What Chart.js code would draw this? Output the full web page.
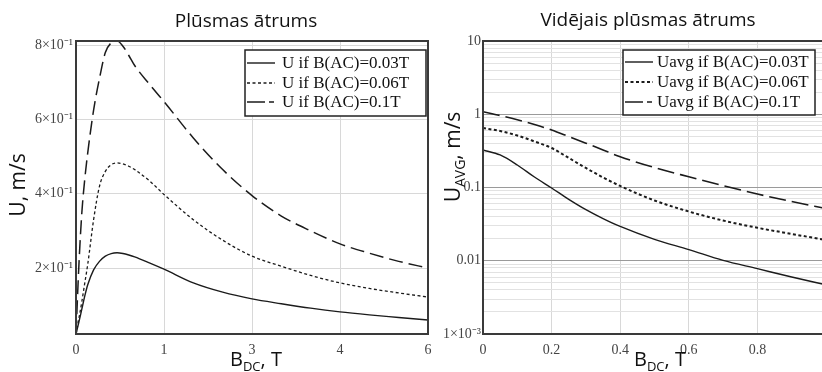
<!DOCTYPE html>
<html>
<head>
<meta charset="utf-8">
<script src="https://cdn.jsdelivr.net/npm/chart.js@4"></script>
<style>
html, body { margin: 0; padding: 0; background: #fff; overflow: hidden; width: 822px; height: 372px; }
#left { position: absolute; left: 0; top: 0; }
#right { position: absolute; left: 440px; top: 0; }
</style>
</head>
<body>
<canvas id="left" width="440" height="372"></canvas>
<canvas id="right" width="400" height="372"></canvas>
<script>
// Plūsmas ātrums: U vs B_DC
var bdc = [0, 0.05, 0.1, 0.15, 0.2, 0.3, 0.4, 0.5, 0.6, 0.7, 0.8, 0.9, 1.0, 1.25, 1.5, 2, 2.5, 3, 3.5, 4, 4.5, 5, 5.5, 6];
var u003 = [0.022, 0.055, 0.09, 0.125, 0.155, 0.195, 0.218, 0.232, 0.239, 0.241, 0.239, 0.235, 0.23, 0.214, 0.197, 0.16, 0.135, 0.117, 0.104, 0.092, 0.082, 0.074, 0.067, 0.06];
var u006 = [0.022, 0.065, 0.11, 0.16, 0.21, 0.33, 0.42, 0.46, 0.478, 0.483, 0.48, 0.474, 0.465, 0.435, 0.398, 0.33, 0.275, 0.232, 0.205, 0.18, 0.16, 0.145, 0.133, 0.122];
var u010 = [0.022, 0.21, 0.35, 0.44, 0.51, 0.625, 0.71, 0.78, 0.806, 0.812, 0.797, 0.772, 0.745, 0.695, 0.648, 0.55, 0.465, 0.395, 0.34, 0.3, 0.265, 0.24, 0.218, 0.2];
var uLabels = ['U if B(AC)=0.03T', 'U if B(AC)=0.06T', 'U if B(AC)=0.1T'];
var uTicksX = [0, 1.5, 3, 4.5, 6];
var uTickTextX = ['0', '1', '3', '4', '6'];
var uTicksY = [0.2, 0.4, 0.6, 0.8];
var uTickTextY = ['2×10⁻¹', '4×10⁻¹', '6×10⁻¹', '8×10⁻¹'];

// Vidējais plūsmas ātrums: Uavg vs B_DC (log)
var bdcAvg = [0, 0.05, 0.1, 0.15, 0.2, 0.25, 0.3, 0.35, 0.4, 0.5, 0.6, 0.7, 0.8, 0.9, 1.0];
var uavg003 = [0.325, 0.278, 0.203, 0.139, 0.0984, 0.069, 0.0499, 0.0377, 0.0294, 0.0196, 0.0142, 0.0101, 0.0078, 0.006, 0.0047];
var uavg006 = [0.649, 0.59, 0.513, 0.425, 0.346, 0.253, 0.185, 0.137, 0.105, 0.0665, 0.047, 0.0354, 0.0282, 0.0232, 0.0192];
var uavg010 = [1.084, 0.962, 0.843, 0.725, 0.61, 0.497, 0.403, 0.325, 0.263, 0.187, 0.14, 0.106, 0.0815, 0.0644, 0.0517];
var avgLabels = ['Uavg if B(AC)=0.03T', 'Uavg if B(AC)=0.06T', 'Uavg if B(AC)=0.1T'];
var avgTicksX = [0, 0.2, 0.4, 0.6, 0.8, 1];
var avgTickTextX = ['0', '0.2', '0.4', '0.6', '0.8', ''];
var avgDecades = [0.001, 0.01, 0.1, 1, 10];
var avgTickTextY = ['1×10⁻³', '0.01', '0.1', '1', '10'];

var lineColor = '#1b1b1b';
var tickFont = { family: '"Liberation Serif", serif', size: 14 };
var tickColor = '#444';

function pts(xs, ys) {
  return xs.map(function (x, i) { return { x: x, y: ys[i] }; });
}

// draws text made of pieces [text, size, dy]
function drawParts(ctx, x, y, parts, align) {
  var w = 0;
  parts.forEach(function (p) {
    ctx.font = p[1] + 'px "Open Sans"';
    w += ctx.measureText(p[0]).width;
  });
  var cx = align === 'center' ? x - w / 2 : x;
  parts.forEach(function (p) {
    ctx.font = p[1] + 'px "Open Sans"';
    ctx.fillText(p[0], cx, y + p[2]);
    cx += ctx.measureText(p[0]).width;
  });
}

function extras(o) {
  return {
    id: 'extras',
    afterDatasetsDraw: function (chart) {
      var ctx = chart.ctx, a = chart.chartArea;
      ctx.save();
      ctx.strokeStyle = '#3a3a3a';
      ctx.lineWidth = 2;
      ctx.strokeRect(a.left, a.top, a.right - a.left, a.bottom - a.top);
      var L = o.legend;
      ctx.fillStyle = '#fff';
      ctx.fillRect(L.x, L.y, L.w, L.h);
      ctx.lineWidth = 1.5;
      ctx.strokeStyle = '#222';
      ctx.strokeRect(L.x, L.y, L.w, L.h);
      ctx.font = '17px "Liberation Serif"';
      ctx.textBaseline = 'middle';
      chart.data.datasets.forEach(function (ds, i) {
        var y = L.rows[i];
        ctx.beginPath();
        ctx.setLineDash(L.dashes[i]);
        ctx.lineWidth = ds.borderWidth;
        ctx.strokeStyle = lineColor;
        ctx.moveTo(L.x + 2, y);
        ctx.lineTo(L.x + 30, y);
        ctx.stroke();
        ctx.setLineDash([]);
        ctx.fillStyle = '#111';
        ctx.fillText(ds.label, L.textX, y + 1);
      });
      ctx.restore();
    },
    afterDraw: function (chart) {
      var ctx = chart.ctx;
      ctx.save();
      ctx.fillStyle = '#111';
      ctx.textBaseline = 'alphabetic';
      drawParts(ctx, o.title.x, o.title.y, [[o.title.text, 19, 0]], 'center');
      drawParts(ctx, o.xTitle.x, o.xTitle.y, [['B', 20, 0], ['DC', 13, 5], [', T', 20, 0]], 'left');
      ctx.translate(o.yTitle.x, o.yTitle.y);
      ctx.rotate(-Math.PI / 2);
      drawParts(ctx, 0, 0, o.yTitle.parts, 'center');
      ctx.restore();
    }
  };
}

new Chart(document.getElementById('left'), {
  type: 'line',
  data: {
    datasets: [
      { label: uLabels[0], data: pts(bdc, u003), borderColor: lineColor, borderWidth: 1.4, pointRadius: 0, cubicInterpolationMode: 'monotone' },
      { label: uLabels[1], data: pts(bdc, u006), borderColor: lineColor, borderWidth: 1.3, borderDash: [3, 2.5], pointRadius: 0, cubicInterpolationMode: 'monotone' },
      { label: uLabels[2], data: pts(bdc, u010), borderColor: lineColor, borderWidth: 1.5, borderDash: [14, 6], pointRadius: 0, cubicInterpolationMode: 'monotone' }
    ]
  },
  options: {
    responsive: false,
    animation: false,
    devicePixelRatio: 1,
    layout: { padding: { left: 0, right: 12, top: 41, bottom: 0 } },
    plugins: { legend: { display: false }, tooltip: { enabled: false } },
    scales: {
      x: {
        type: 'linear', min: 0, max: 6,
        afterBuildTicks: function (s) { s.ticks = uTicksX.map(function (v) { return { value: v }; }); },
        afterFit: function (s) { s.height = 38; },
        grid: { color: '#d8d8d8', drawTicks: false },
        border: { display: false },
        ticks: {
          padding: 8, font: tickFont, color: tickColor, maxRotation: 0, autoSkip: false,
          callback: function (v) { var i = uTicksX.indexOf(v); return i >= 0 ? uTickTextX[i] : ''; }
        }
      },
      y: {
        type: 'linear', min: 0.0225, max: 0.811,
        afterBuildTicks: function (s) { s.ticks = uTicksY.map(function (v) { return { value: v }; }); },
        afterFit: function (s) { s.width = 76; },
        grid: { color: '#d8d8d8', drawTicks: false },
        border: { display: false },
        ticks: {
          padding: 3, font: tickFont, color: tickColor, autoSkip: false,
          callback: function (v) { var i = uTicksY.indexOf(v); return i >= 0 ? uTickTextY[i] : ''; }
        }
      }
    }
  },
  plugins: [extras({
    legend: { x: 245, y: 50, w: 181, h: 66, rows: [63, 83, 102], textX: 282, dashes: [[], [3, 2.5], [18, 4, 5, 100]] },
    title: { text: 'Plūsmas ātrums', x: 246, y: 27 },
    xTitle: { x: 230, y: 366 },
    yTitle: { x: 25, y: 185, parts: [['U, m/s', 21, 0]] }
  })]
});

var logTicks = [];
avgDecades.slice(0, 4).forEach(function (d) {
  for (var k = 1; k < 10; k++) logTicks.push(d * k);
});
logTicks.push(10);

function isDecade(v) {
  var l = Math.log10(v);
  return Math.abs(l - Math.round(l)) < 1e-6;
}

new Chart(document.getElementById('right'), {
  type: 'line',
  data: {
    datasets: [
      { label: avgLabels[0], data: pts(bdcAvg, uavg003), borderColor: lineColor, borderWidth: 1.4, pointRadius: 0, cubicInterpolationMode: 'monotone' },
      { label: avgLabels[1], data: pts(bdcAvg, uavg006), borderColor: lineColor, borderWidth: 2, borderDash: [3, 2.5], pointRadius: 0, cubicInterpolationMode: 'monotone' },
      { label: avgLabels[2], data: pts(bdcAvg, uavg010), borderColor: lineColor, borderWidth: 1.6, borderDash: [17, 6], pointRadius: 0, cubicInterpolationMode: 'monotone' }
    ]
  },
  options: {
    responsive: false,
    animation: false,
    devicePixelRatio: 1,
    layout: { padding: { left: 0, right: 14, top: 41, bottom: 0 } },
    plugins: { legend: { display: false }, tooltip: { enabled: false } },
    scales: {
      x: {
        type: 'linear', min: 0, max: 1,
        afterBuildTicks: function (s) { s.ticks = avgTicksX.map(function (v) { return { value: v }; }); },
        afterFit: function (s) { s.height = 38; },
        grid: { color: '#d8d8d8', drawTicks: false },
        border: { display: false },
        ticks: {
          padding: 8, font: tickFont, color: tickColor, maxRotation: 0, autoSkip: false,
          callback: function (v) { var i = avgTicksX.indexOf(v); return i >= 0 ? avgTickTextX[i] : ''; }
        }
      },
      y: {
        type: 'logarithmic', min: 0.001, max: 10,
        afterBuildTicks: function (s) { s.ticks = logTicks.map(function (v) { return { value: v }; }); },
        afterFit: function (s) { s.width = 43; },
        grid: {
          drawTicks: false,
          color: function (c) { return c.tick && isDecade(c.tick.value) ? '#9a9a9a' : '#e2e2e2'; }
        },
        border: { display: false },
        ticks: {
          padding: 2, font: tickFont, color: tickColor, autoSkip: false,
          callback: function (v) {
            for (var i = 0; i < avgDecades.length; i++) {
              if (Math.abs(v - avgDecades[i]) < avgDecades[i] * 1e-6) return avgTickTextY[i];
            }
            return '';
          }
        }
      }
    }
  },
  plugins: [extras({
    legend: { x: 183, y: 50, w: 192, h: 65, rows: [62, 82, 102], textX: 217, dashes: [[], [3, 2.5], [18, 4, 5, 100]] },
    title: { text: 'Vidējais plūsmas ātrums', x: 208, y: 26 },
    xTitle: { x: 194, y: 366 },
    yTitle: { x: 20, y: 157, parts: [['U', 21, 0], ['AVG', 14, 5], [', m/s', 21, 0]] }
  })]
});
</script>
</body>
</html>
